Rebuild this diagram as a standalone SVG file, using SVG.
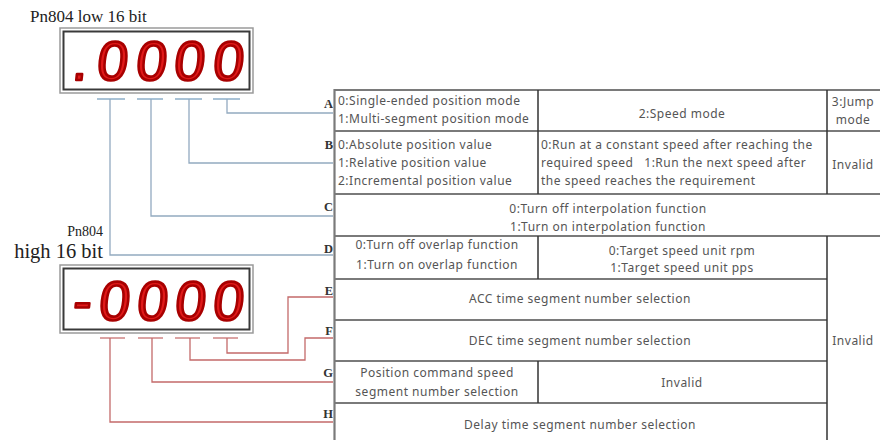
<svg xmlns="http://www.w3.org/2000/svg" width="880" height="440" viewBox="0 0 880 440">
<style>
.title{font-family:"Liberation Serif",serif;fill:#222}
.frameO{fill:#fff;stroke:#9a9a9a;stroke-width:1.5}
.frameI{fill:none;stroke:#3a3a3a;stroke-width:2}
.digits{font-family:"Liberation Sans",sans-serif;font-size:55px;fill:#e01a1a;stroke:#a80000;stroke-width:2.6;stroke-linejoin:round;text-anchor:middle}
.ub{stroke:#a9c2d6;stroke-width:2;fill:none}
.ur{stroke:#dba3a3;stroke-width:2;fill:none}
.cb{stroke:#93aac0;stroke-width:1.3;fill:none}
.cr{stroke:#c46a6a;stroke-width:1.3;fill:none}
.lbl{font-family:"Liberation Serif",serif;font-weight:bold;font-size:12.5px;fill:#333;text-anchor:end}
.grid{stroke:#7a7a7a;stroke-width:2.2;fill:none}
.vdiv{stroke:#333;stroke-width:1.5;fill:none}
.t{font-family:"Noto Sans",sans-serif;font-size:12px;letter-spacing:0.5px;fill:#555}
.c{text-anchor:middle}
</style>

<g id="display-low">
<text class="title" x="30" y="22" font-size="17">Pn804 low 16 bit</text>
<rect class="frameO" x="60" y="28" width="193" height="65"/>
<rect class="frameI" x="63.5" y="31.5" width="186" height="58"/>
<g transform="translate(0,80) skewX(-6)">
<text class="digits" x="79 111 150 188 227" y="0">.0000</text>
</g>
<path class="ub" d="M97,99H125M137,99H163M175,99H202M213,99H240"/>
</g>

<g id="display-high">
<text class="title" x="103" y="236" font-size="14" text-anchor="end">Pn804</text>
<text class="title" x="103" y="258" font-size="20.5" text-anchor="end">high 16 bit</text>
<rect class="frameO" x="60" y="265" width="193" height="68"/>
<rect class="frameI" x="63.5" y="268.5" width="186" height="61"/>
<g transform="translate(0,320) skewX(-6)">
<text class="digits" x="81 113 151 189 227" y="0">-0000</text>
</g>
<path class="ur" d="M100,338H125M138,338H163M175,338H200M213,338H238"/>
</g>

<g id="connectors">
<path class="cb" d="M227,99V113H333"/>
<path class="cb" d="M189,99V163H333"/>
<path class="cb" d="M151,99V216H333"/>
<path class="cb" d="M110,99V255H333"/>
<path class="cr" d="M227,338V353H288V297H333"/>
<path class="cr" d="M190,338V360H305V338H333"/>
<path class="cr" d="M152,338V382H333"/>
<path class="cr" d="M110,338V422H333"/>
</g>

<g id="labels">
<text class="lbl" x="333" y="108">A</text>
<text class="lbl" x="333" y="149">B</text>
<text class="lbl" x="333" y="211">C</text>
<text class="lbl" x="333" y="253">D</text>
<text class="lbl" x="333" y="295">E</text>
<text class="lbl" x="333" y="335">F</text>
<text class="lbl" x="333" y="377">G</text>
<text class="lbl" x="333" y="418">H</text>
</g>

<g id="table">
<path class="grid" d="M334,90H880M334,131H880M334,194H880M334,236H880M334,279H827M334,320H827M334,361H827M334,403H827"/>
<path class="grid" d="M334.5,89V440" stroke-width="3"/>
<path class="vdiv" d="M538,90V194M827,90V194M538,236V279M827,236V440M538,361V403"/>
</g>

<g id="row-A">
<text class="t" x="338" y="105">0:Single-ended position mode</text>
<text class="t" x="338" y="123">1:Multi-segment position mode</text>
<text class="t c" x="682" y="118">2:Speed mode</text>
<text class="t c" x="853" y="106">3:Jump</text>
<text class="t c" x="853" y="124">mode</text>
</g>
<g id="row-B">
<text class="t" x="338" y="149">0:Absolute position value</text>
<text class="t" x="338" y="167">1:Relative position value</text>
<text class="t" x="338" y="185">2:Incremental position value</text>
<text class="t" x="541" y="149">0:Run at a constant speed after reaching the</text>
<text class="t" x="541" y="167" xml:space="preserve">required speed   1:Run the next speed after</text>
<text class="t" x="541" y="185">the speed reaches the requirement</text>
<text class="t c" x="853" y="169">Invalid</text>
</g>
<g id="row-C">
<text class="t c" x="608" y="213">0:Turn off interpolation function</text>
<text class="t c" x="608" y="231">1:Turn on interpolation function</text>
</g>
<g id="row-D">
<text class="t c" x="437" y="249">0:Turn off overlap function</text>
<text class="t c" x="437" y="269">1:Turn on overlap function</text>
<text class="t c" x="682" y="255">0:Target speed unit rpm</text>
<text class="t c" x="682" y="272">1:Target speed unit pps</text>
</g>
<g id="row-E"><text class="t c" x="580" y="303">ACC time segment number selection</text></g>
<g id="row-F"><text class="t c" x="580" y="345">DEC time segment number selection</text></g>
<g id="row-G">
<text class="t c" x="437" y="377">Position command speed</text>
<text class="t c" x="437" y="396">segment number selection</text>
<text class="t c" x="682" y="387">Invalid</text>
</g>
<g id="row-H"><text class="t c" x="580" y="429">Delay time segment number selection</text></g>
<g id="invalid-DH"><text class="t c" x="853" y="345">Invalid</text></g>
</svg>
